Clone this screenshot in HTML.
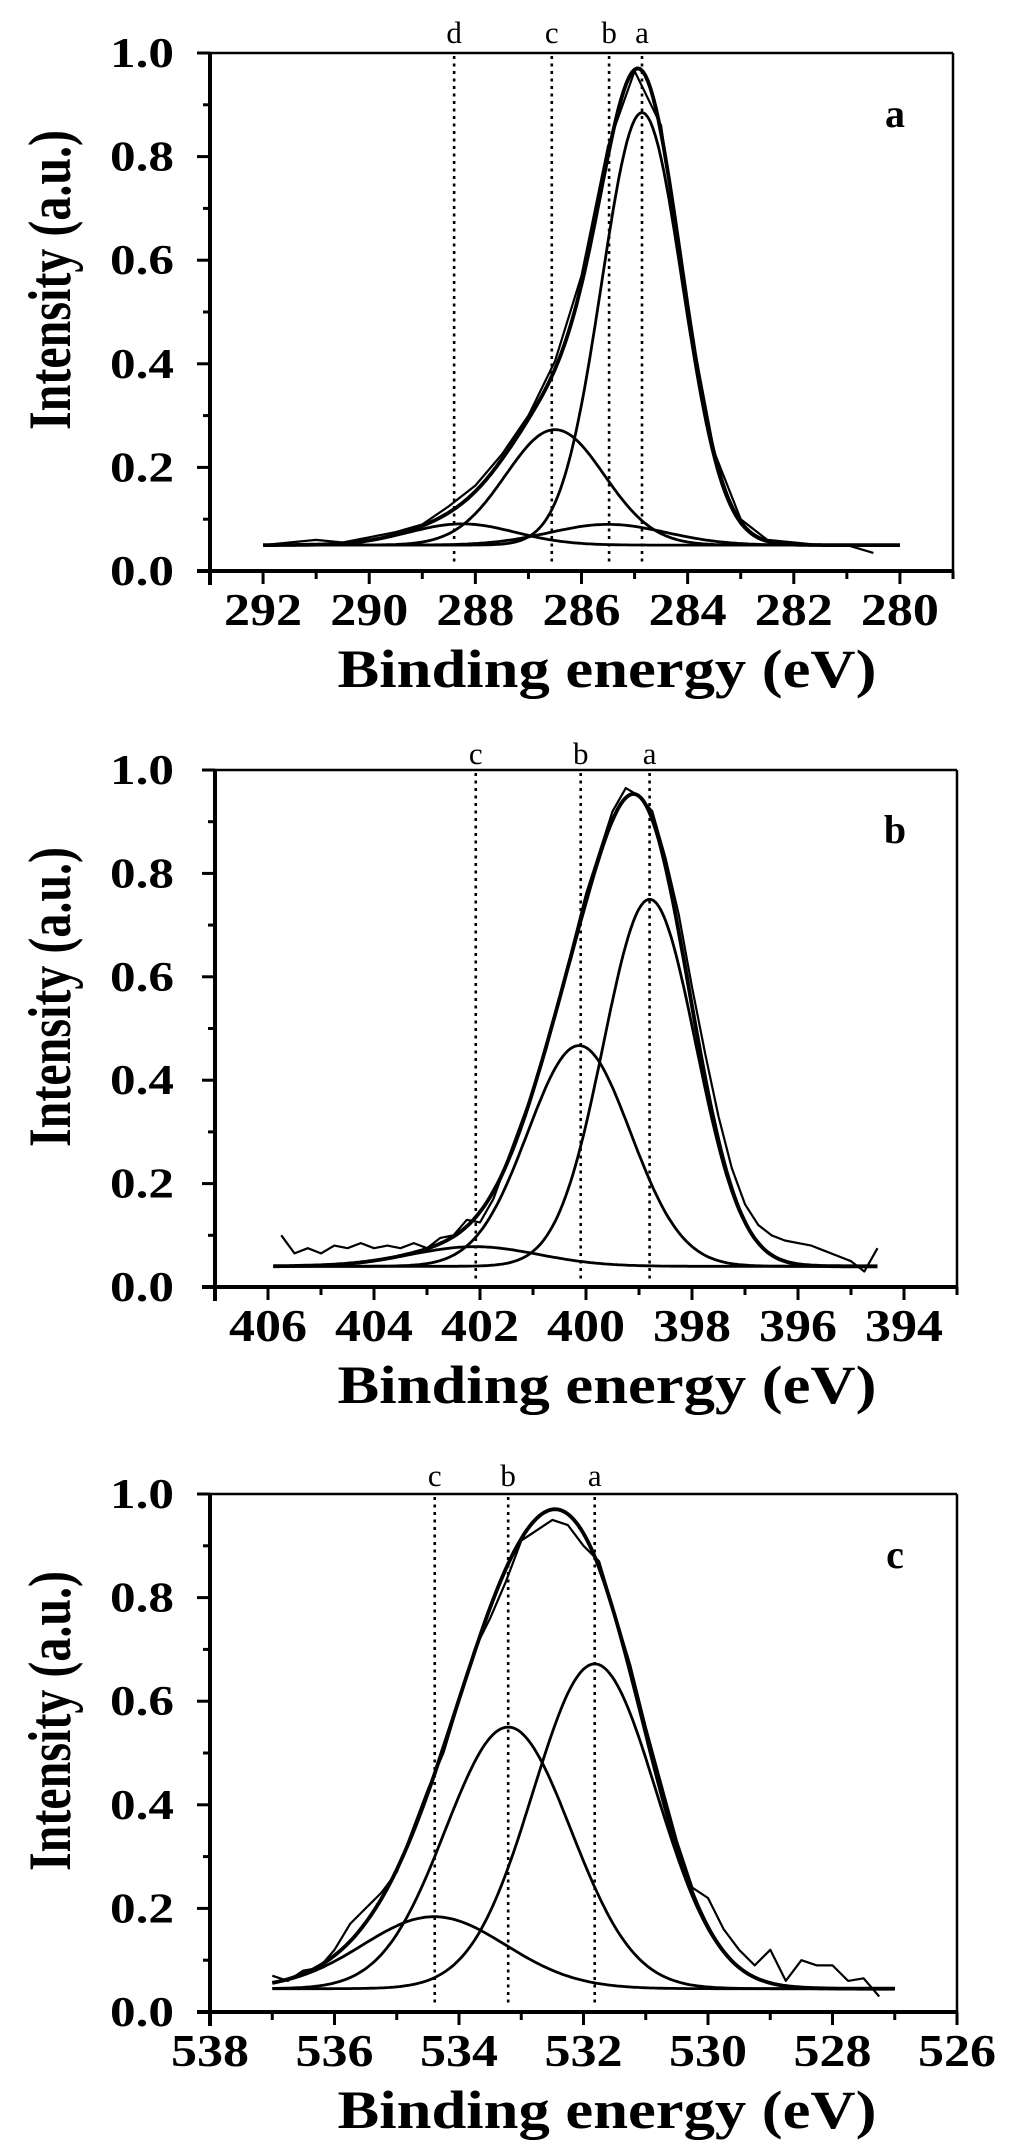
<!DOCTYPE html>
<html><head><meta charset="utf-8">
<style>
html,body{margin:0;padding:0;background:#fff;}
svg{display:block;}
</style></head>
<body>
<svg id="fig" width="1024" height="2154" viewBox="0 0 1024 2154" xmlns="http://www.w3.org/2000/svg"></svg>
<script>
// ---------- data ----------
const panelNames = ['a','b','c'];
const xDomains = [[293,279],[407,393],[538,526]];
const xTickLabels = [
  ['292','290','288','286','284','282','280'],
  ['406','404','402','400','398','396','394'],
  ['538','536','534','532','530','528','526']
];
const yTickLabels = ['0.0','0.2','0.4','0.6','0.8','1.0'];
const yTickValues = [0,0.2,0.4,0.6,0.8,1.0];
const refLabelsA = ['d','c','b','a'];
const refEnergiesA = [288.4,286.56,285.48,284.86];
const refLabelsB = ['c','b','a'];
const refEnergiesB = [402.08,400.1,398.8];
const refLabelsC = ['c','b','a'];
const refEnergiesC = [534.39,533.21,531.82];
// fitted components: centers, amplitudes, widths
const compCentersA = [284.86,285.5,286.5,288.25];
const compAmpsA = [0.835,0.04,0.223,0.041];
const compSigmasA = [0.76,1.1,0.93,1.0];
const baseA = 0.05;
const compCentersB = [398.8,400.13,402.1];
const compAmpsB = [0.71,0.427,0.038];
const compSigmasB = [0.87,0.97,1.2];
const baseB = 0.04;
const compCentersC = [531.82,533.21,534.4];
const compAmpsC = [0.627,0.505,0.139];
const compSigmasC = [0.99,1.01,1.15];
const baseC = 0.045;
const fitRangeA = [292,280];
const fitRangeB = [405.9,394.5];
const fitRangeC = [537,527];
// raw spectra
const rawStartA = 292, rawStepA = 0.5;
const rawA = [.05,.055,.06,.055,.065,.075,.09,.125,.165,.225,.30,.405,.57,.82,.965,.86,.50,.23,.10,.06,.055,.05,.05,.035];
const rawStartB = 405.75, rawStepB = 0.25;
const rawB = [.10,.065,.075,.065,.08,.075,.085,.075,.08,.075,.085,.075,.095,.10,.13,.125,.17,.24,.31,.38,.46,.56,.66,.76,.84,.92,.965,.95,.92,.83,.72,.58,.45,.33,.23,.16,.12,.10,.09,.085,.08,.07,.06,.05,.03,.075];
const rawStartC = 537, rawStepC = 0.25;
const rawC = [.07,.06,.08,.085,.12,.17,.2,.23,.27,.35,.43,.5,.6,.7,.76,.83,.91,.93,.95,.94,.9,.87,.77,.67,.55,.44,.33,.24,.22,.16,.12,.09,.12,.06,.1,.09,.09,.06,.065,.03];

// ---------- layout ----------
const NS='http://www.w3.org/2000/svg';
const svg=document.getElementById('fig');
const geo=[
  {L:210,R:953,T:53,B:571,refBase:43,letterY:127,tickBase:625,titleY:687,yTitleC:280},
  {L:215,R:957,T:770,B:1287,refBase:764,letterY:843,tickBase:1341,titleY:1403,yTitleC:997},
  {L:210,R:957,T:1494,B:2012,refBase:1486,letterY:1568,tickBase:2066,titleY:2128,yTitleC:1721}
];
const refSets=[[refLabelsA,refEnergiesA],[refLabelsB,refEnergiesB],[refLabelsC,refEnergiesC]];
const comps=[[compCentersA,compAmpsA,compSigmasA,baseA,fitRangeA],[compCentersB,compAmpsB,compSigmasB,baseB,fitRangeB],[compCentersC,compAmpsC,compSigmasC,baseC,fitRangeC]];
const raws=[[rawStartA,rawStepA,rawA],[rawStartB,rawStepB,rawB],[rawStartC,rawStepC,rawC]];

function el(tag,attrs,parent){const e=document.createElementNS(NS,tag);for(const k in attrs)e.setAttribute(k,attrs[k]);(parent||svg).appendChild(e);return e;}
function gauss(x,c,a,s){return a*Math.exp(-(x-c)*(x-c)/(2*s*s));}

panelNames.forEach((pn,pi)=>{
  const g=geo[pi];
  const dom=xDomains[pi];
  const X=e=>g.L+(dom[0]-e)/(dom[0]-dom[1])*(g.R-g.L);
  const Y=v=>g.B-v*(g.B-g.T);
  const grp=el('g',{});
  
  

  const top=el('line',{x1:g.L,y1:g.T,x2:g.R,y2:g.T,stroke:'#000','stroke-width':2.5},grp);
  
  
  const right=el('line',{x1:g.R,y1:g.T,x2:g.R,y2:g.B,stroke:'#000','stroke-width':2.5},grp);
  
  
  const ya=el('line',{x1:g.L,y1:g.T-1,x2:g.L,y2:g.B+14,stroke:'#000','stroke-width':4},grp);
  
  
  const xa=el('line',{x1:g.L-13,y1:g.B,x2:g.R+1,y2:g.B,stroke:'#000','stroke-width':4},grp);
  
  

  for(let i=0;i<=10;i++){
    const v=i/10, y=Y(v), major=(i%2===0);
    const t=el('line',{x1:g.L-(major?13:7),y1:y,x2:g.L,y2:y,stroke:'#000','stroke-width':3},grp);
    
    
  }
  yTickValues.forEach((v,i)=>{
    const t=el('text',{x:174,y:Y(v)+14,'text-anchor':'end','font-family':'Liberation Serif, serif','font-weight':'bold','font-size':42,textLength:64,lengthAdjust:'spacingAndGlyphs'},grp);
    t.textContent=yTickLabels[i];
    
    
  });
  const lo=Math.ceil(Math.min(dom[0],dom[1])), hi=Math.floor(Math.max(dom[0],dom[1]));
  for(let e=lo;e<=hi;e++){
    const major=(e%2===0);
    const t=el('line',{x1:X(e),y1:g.B,x2:X(e),y2:g.B+(major?13:8),stroke:'#000','stroke-width':3},grp);
    
    
  }
  xTickLabels[pi].forEach(lbl=>{
    const t=el('text',{x:X(parseFloat(lbl)),y:g.tickBase,'text-anchor':'middle','font-family':'Liberation Serif, serif','font-weight':'bold','font-size':45,textLength:78,lengthAdjust:'spacingAndGlyphs'},grp);
    t.textContent=lbl;
    
    
  });
  const xt=el('text',{x:607,y:g.titleY,'text-anchor':'middle','font-family':'Liberation Serif, serif','font-weight':'bold','font-size':54,textLength:539,lengthAdjust:'spacingAndGlyphs'},grp);
  xt.textContent='Binding energy (eV)';
  
  
  const yt=el('text',{x:0,y:0,'text-anchor':'middle','font-family':'Liberation Serif, serif','font-weight':'bold','font-size':60,textLength:300,lengthAdjust:'spacingAndGlyphs',transform:'translate(70,'+g.yTitleC+') rotate(-90)'},grp);
  yt.textContent='Intensity (a.u.)';
  
  
  const pl=el('text',{x:895,y:g.letterY,'text-anchor':'middle','font-family':'Liberation Serif, serif','font-weight':'bold','font-size':40},grp);
  pl.textContent=pn;
  
  

  const [rl,re]=refSets[pi];
  re.forEach((e,i)=>{
    const dl=el('line',{x1:X(e),y1:g.T+3,x2:X(e),y2:g.B-6,stroke:'#000','stroke-width':2.6,'stroke-dasharray':'3 4.5'},grp);
    
    
    const lt=el('text',{x:X(e),y:g.refBase,'text-anchor':'middle','font-family':'Liberation Serif, serif','font-size':31},grp);
    lt.textContent=rl[i];
    
    
  });

  const [cc,ca,cs,base,fr]=comps[pi];
  const n=240;
  const pts=k=>{const arr=[];for(let j=0;j<=n;j++){const e=fr[0]+(fr[1]-fr[0])*j/n;arr.push([e,k(e)]);}return arr;};
  const toD=arr=>arr.map((p,j)=>(j?'L':'M')+X(p[0]).toFixed(1)+' '+Y(p[1]).toFixed(1)).join(' ');
  cc.forEach((c,i)=>{
    const p=el('path',{d:toD(pts(e=>base+gauss(e,c,ca[i],cs[i]))),fill:'none',stroke:'#000','stroke-width':2.8},grp);
    
    
  });
  const env=el('path',{d:toD(pts(e=>{let s=base;cc.forEach((c,i)=>s+=gauss(e,c,ca[i],cs[i]));return s;})),fill:'none',stroke:'#000','stroke-width':3.8},grp);
  
  
  const [rs,rst,rv]=raws[pi];
  const rd=rv.map((v,j)=>(j?'L':'M')+X(rs-j*rst).toFixed(1)+' '+Y(v).toFixed(1)).join(' ');
  const rp=el('path',{d:rd,fill:'none',stroke:'#000','stroke-width':2.2,'stroke-linejoin':'round'},grp);
  
  
});
</script>
</body></html>
